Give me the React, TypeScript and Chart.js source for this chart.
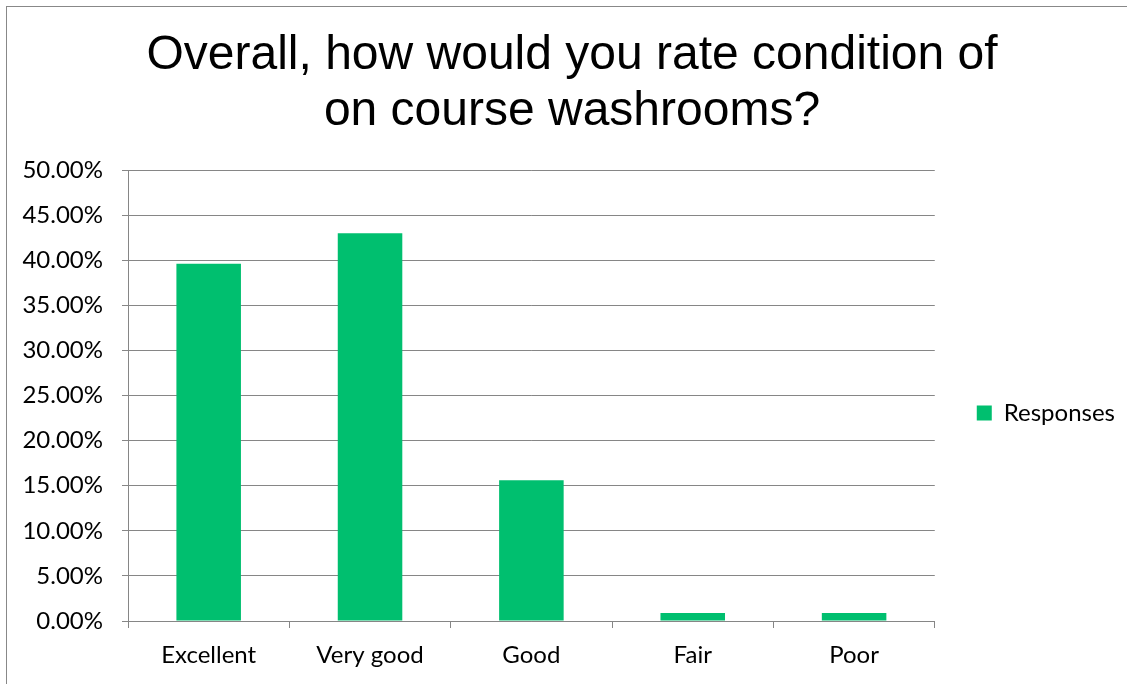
import { useEffect, useRef } from "react";
import { Chart, registerables } from "chart.js";

Chart.register(...registerables);

const categories = ["Excellent", "Very good", "Good", "Fair", "Poor"];
const responses = [39.6, 43.0, 15.6, 0.9, 0.9];
const seriesName = "Responses";
const titleLines = ["Overall, how would you rate condition of", "on course washrooms?"];
const yMin = 0;
const yMax = 50;
const yStep = 5;

const GRID = "#868686";
const BAR = "#00bf6f";
const LABEL_FONT = "Lato, 'Open Sans', sans-serif";

export default function App() {
  const ref = useRef<HTMLCanvasElement | null>(null);

  useEffect(() => {
    const canvas = ref.current;
    if (!canvas) return;
    const chart = new Chart(canvas, {
      type: "bar",
      data: {
        labels: categories,
        datasets: [
          {
            label: seriesName,
            data: responses,
            backgroundColor: BAR,
            borderWidth: 0,
            barPercentage: 1,
            categoryPercentage: 0.4,
          },
        ],
      },
      options: {
        responsive: false,
        animation: false,
        devicePixelRatio: 1,
        layout: { padding: { left: 19, right: 2, top: 0, bottom: 0 } },
        plugins: {
          tooltip: { enabled: false },
          title: {
            display: true,
            text: titleLines,
            color: "#000000",
            font: { family: "'Liberation Sans', Arial, sans-serif", size: 48, weight: "normal", lineHeight: 56 / 48 },
            padding: { top: 28, bottom: 30 },
          },
          legend: {
            display: true,
            position: "right",
            fullSize: false,
            title: {
              display: true,
              text: " ",
              font: { size: 1 },
              padding: { top: 0, bottom: 34 },
            },
            labels: {
              boxWidth: 15,
              boxHeight: 15,
              padding: 42,
              color: "#000000",
              font: { family: LABEL_FONT, size: 24 },
            },
          },
        },
        scales: {
          x: {
            type: "category",
            offset: true,
            grid: {
              display: true,
              offset: true,
              drawOnChartArea: false,
              color: GRID,
              tickLength: 7,
              tickColor: GRID,
            },
            border: { display: true, color: GRID, width: 1 },
            ticks: {
              color: "#000000",
              font: { family: LABEL_FONT, size: 24 },
              padding: 13,
              maxRotation: 0,
            },
            afterFit: (s: any) => {
              s.height = 63;
            },
          },
          y: {
            type: "linear",
            position: "left",
            min: yMin,
            max: yMax,
            grid: {
              display: true,
              color: GRID,
              tickLength: 6,
              tickColor: GRID,
            },
            border: { display: true, color: GRID, width: 1 },
            ticks: {
              stepSize: yStep,
              color: "#000000",
              font: { family: LABEL_FONT, size: 24 },
              padding: 19,
              callback: (v: any) => Number(v).toFixed(2) + "%",
            },
            afterFit: (s: any) => {
              s.width = 109;
            },
          },
        },
      },
    });
    return () => chart.destroy();
  }, []);

  return (
    <div
      style={{
        position: "absolute",
        left: 0,
        top: 0,
        width: 1127,
        height: 684,
        overflow: "hidden",
        background: "#ffffff",
      }}
    >
      <div
        style={{
          position: "absolute",
          left: 6,
          top: 6,
          width: 2000,
          height: 2000,
          borderLeft: "1px solid #888888",
          borderTop: "1px solid #888888",
        }}
      />
      <canvas
        ref={ref}
        width={1127}
        height={684}
        style={{ position: "absolute", left: 0, top: 0, width: 1127, height: 684 }}
      />
    </div>
  );
}
